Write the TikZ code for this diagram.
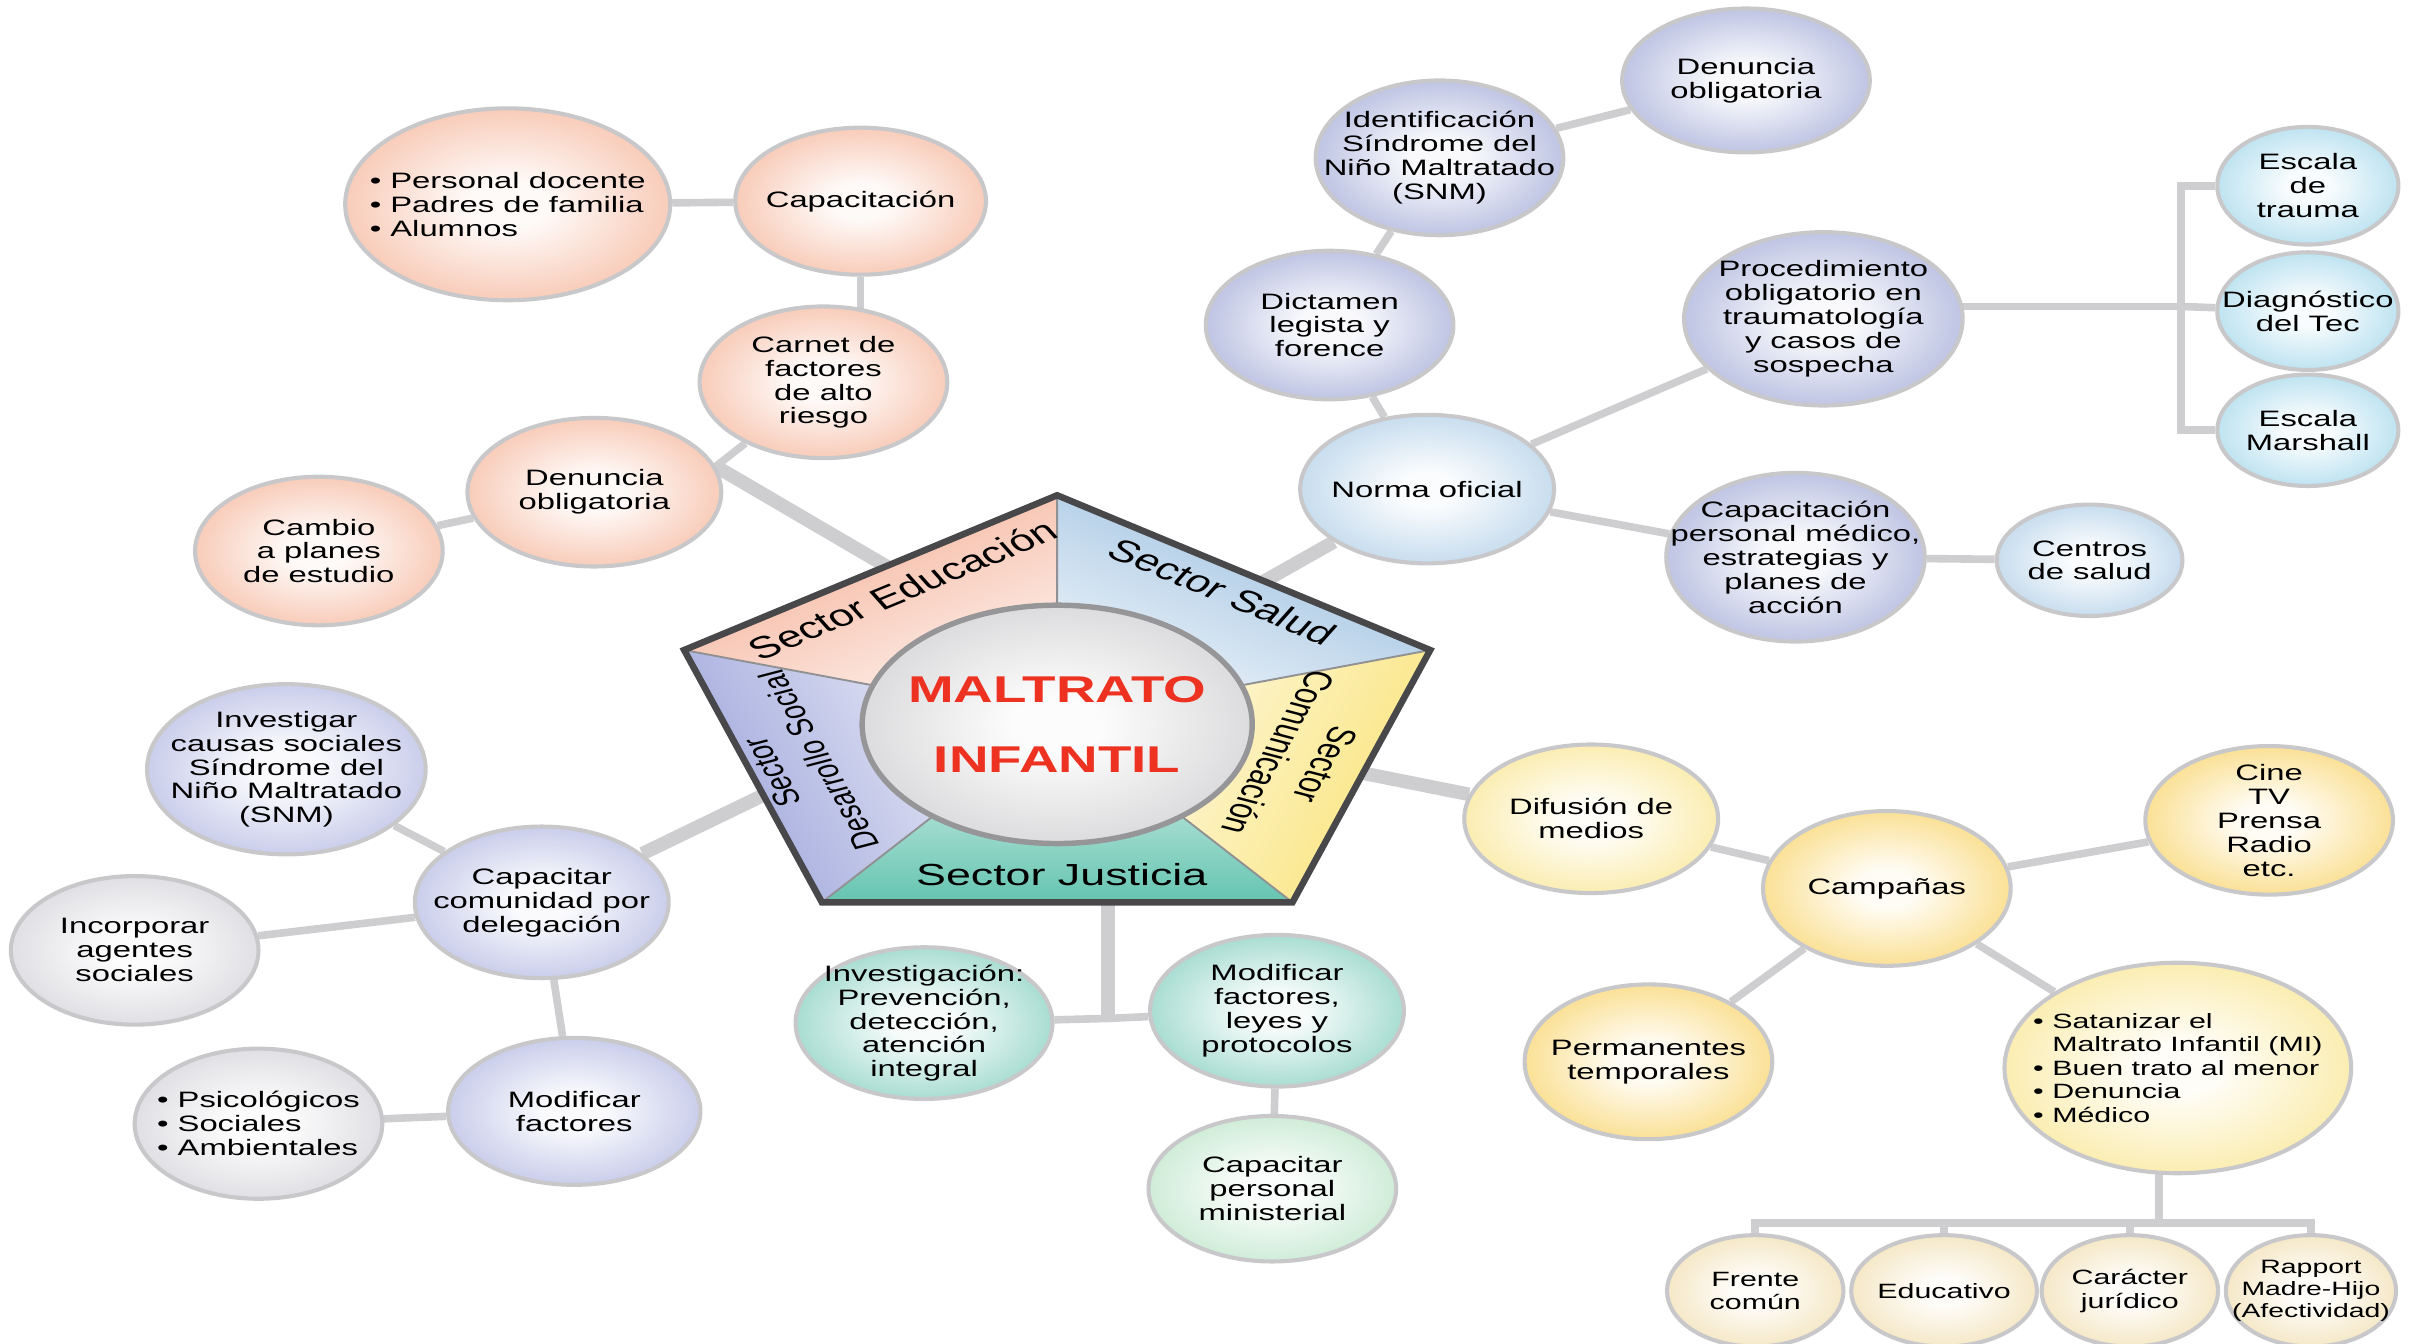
\documentclass[tikz,border=0pt]{standalone}
\usepackage{fontspec}
\setmainfont{Liberation Sans}[FakeStretch=1.47]
\newfontfamily\flatfont{Liberation Sans}
\usetikzlibrary{shapes.geometric}

\definecolor{wire}{RGB}{206,206,208}
\definecolor{rim}{RGB}{200,200,203}
\definecolor{pentrim}{RGB}{72,72,75}
\definecolor{corerim}{RGB}{150,150,153}
\definecolor{core}{RGB}{198,198,201}
\definecolor{alarm}{RGB}{238,50,34}
\definecolor{edu}{RGB}{244,172,142}
\definecolor{sal}{RGB}{150,160,210}
\definecolor{norma}{RGB}{165,200,228}
\definecolor{escala}{RGB}{150,210,232}
\definecolor{com}{RGB}{248,206,85}
\definecolor{compale}{RGB}{248,226,130}
\definecolor{crema}{RGB}{240,218,165}
\definecolor{jus}{RGB}{115,200,182}
\definecolor{juspale}{RGB}{178,225,192}
\definecolor{des}{RGB}{168,175,222}
\definecolor{gris}{RGB}{205,203,210}
\definecolor{wEdu}{RGB}{244,172,145}
\definecolor{wSal}{RGB}{150,188,222}
\definecolor{wCom}{RGB}{250,228,125}
\definecolor{wJus}{RGB}{100,196,176}
\definecolor{wDes}{RGB}{160,168,220}

\pgfdeclarelayer{bg}
\pgfsetlayers{bg,main}

\newcommand\bubshade[1]{\pgfdeclareradialshading{bub#1}{\pgfpoint{0bp}{0bp}}{color(0bp)=(#1!6); color(6bp)=(#1!6); color(38bp)=(#1); color(50bp)=(#1)}}
\bubshade{edu}\bubshade{sal}\bubshade{norma}\bubshade{escala}\bubshade{com}\bubshade{compale}
\bubshade{crema}\bubshade{jus}\bubshade{juspale}\bubshade{des}\bubshade{gris}\bubshade{core}

\newcommand\bubfont{\fontsize{8.2}{8.8}\selectfont}
\newcommand\smallbubfont{\fontsize{7.6}{8.6}\selectfont}
\newcommand\tinybubfont{\fontsize{7.1}{8.2}\selectfont}
\newcommand\secfont{\flatfont\fontsize{11.2}{12}\selectfont}
\newcommand\mifont{\fontsize{13.7}{25.6}\selectfont\bfseries}

\tikzset{
	bub/.style={ellipse, draw=rim, line width=1.5pt, shading=bub#1, inner xsep=-1cm, inner ysep=-4mm, minimum width=3.24cm, minimum height=1.92cm, align=center, font=\bubfont},
	con/.style={draw=wire, line width=2.8pt},
	trunk/.style={draw=wire, line width=5pt},
	sector/.style={font=\secfont, align=center, inner sep=0pt},
	wedge/.style={top color=#1, bottom color=#1!12},
	divider/.style={draw=pentrim!60, line width=0.7pt},
}

\begin{document}
\begin{tikzpicture}
	\useasboundingbox (0,0) rectangle (31.36,17.36);
	\coordinate (pc) at (13.66,8.06);
	\coordinate (pt) at (13.66,10.96);
	\coordinate (pr) at (18.48,8.96);
	\coordinate (pbr) at (16.7,5.7);
	\coordinate (pbl) at (10.62,5.7);
	\coordinate (pl) at (8.84,8.96);
	\shade[wedge=wEdu, shading angle=22.5] (pl) -- (pt) -- (pc) -- cycle;
	\shade[wedge=wSal, shading angle=-22.5] (pt) -- (pr) -- (pc) -- cycle;
	\shade[wedge=wCom, shading angle=-118] (pr) -- (pbr) -- (pc) -- cycle;
	\shade[wedge=wJus, shading angle=180] (pbr) -- (pbl) -- (pc) -- cycle;
	\shade[wedge=wDes, shading angle=118] (pbl) -- (pl) -- (pc) -- cycle;
	\draw[divider] (pt) -- (pc) (pr) -- (pc) (pbr) -- (pc) (pbl) -- (pc) (pl) -- (pc);
	\draw[pentrim, line width=2.4pt] (pl) -- (pt) -- (pr) -- (pbr) -- (pbl) -- cycle;
	\node[bub=core, draw=corerim, line width=2pt, minimum width=5.04cm, minimum height=3.08cm, font=\mifont, text=alarm] (mi) at (13.66,8.0) {MALTRATO\\INFANTIL};
	\begin{scope}[shift={(pc)}, xscale=1.47, transform shape]
		\node[sector, rotate=31.3] (tEdu) at (-1.36,1.68) {Sector Educación};
		\node[sector, rotate=-31.3] (tSal) at (1.456,1.66) {Sector Salud};
		\node[sector, font=\flatfont\fontsize{10}{12.6}\selectfont, rotate=-111] (tCom) at (2.15,-0.5) {Sector\\Comunicación};
		\node[sector] (tJus) at (0.04,-2.0) {Sector Justicia};
		\node[sector, font=\flatfont\fontsize{9.2}{12.6}\selectfont, rotate=111] (tDes) at (-2.3,-0.6) {Sector\\Desarrollo Social};
	\end{scope}
	\coordinate (rEdu) at (11.8,9.84);
	\coordinate (rSal) at (16.0,9.66);
	\coordinate (rCom) at (17.36,7.42);
	\coordinate (rJus) at (14.32,5.86);
	\coordinate (rDes) at (10.1,7.2);

	\node[bub=edu, align=left, minimum width=4.2cm, minimum height=2.48cm] (ePers) at (6.56,14.72) {• Personal docente\\• Padres de familia\\• Alumnos};
	\node[bub=edu, minimum height=1.9cm] (eCap) at (11.12,14.76) {Capacitación};
	\node[bub=edu, minimum width=3.2cm, minimum height=1.96cm] (eCarnet) at (10.64,12.42) {Carnet de\\factores\\de alto\\riesgo};
	\node[bub=edu, minimum width=3.28cm] (eDen) at (7.68,11.0) {Denuncia\\obligatoria};
	\node[bub=edu, minimum width=3.2cm] (eCambio) at (4.12,10.24) {Cambio\\a planes\\de estudio};

	\node[bub=norma, minimum width=3.28cm] (sNorma) at (18.44,11.04) {Norma oficial};
	\node[bub=sal, minimum width=3.2cm] (sDict) at (17.18,13.16) {Dictamen\\legista y\\forence};
	\node[bub=sal, minimum width=3.2cm, minimum height=2.0cm] (sIdent) at (18.6,15.32) {Identificación\\Síndrome del\\Niño Maltratado\\(SNM)};
	\node[bub=sal, minimum width=3.2cm, minimum height=1.86cm] (sDen) at (22.56,16.32) {Denuncia\\obligatoria};
	\node[bub=sal, minimum width=3.6cm, minimum height=2.24cm] (sProc) at (23.56,13.24) {Procedimiento\\obligatorio en\\traumatología\\y casos de\\sospecha};
	\node[bub=sal, minimum width=3.34cm, minimum height=2.18cm] (sCapac) at (23.2,10.16) {Capacitación\\personal médico,\\estrategias y\\planes de\\acción};
	\node[bub=norma, minimum width=2.4cm, minimum height=1.44cm] (sCentros) at (27.0,10.12) {Centros\\de salud};
	\node[bub=escala, minimum width=2.34cm, minimum height=1.52cm] (sEsc1) at (29.82,14.96) {Escala\\de\\trauma};
	\node[bub=escala, minimum width=2.34cm, minimum height=1.52cm] (sDiag) at (29.82,13.34) {Diagnóstico\\del Tec};
	\node[bub=escala, minimum width=2.34cm, minimum height=1.44cm] (sEsc2) at (29.82,11.8) {Escala\\Marshall};

	\node[bub=compale, minimum width=3.28cm] (cDif) at (20.56,6.78) {Difusión de\\medios};
	\node[bub=com, minimum width=3.2cm, minimum height=2.0cm] (cCamp) at (24.38,5.88) {Campañas};
	\node[bub=com, minimum width=3.2cm] (cCine) at (29.32,6.76) {Cine\\TV\\Prensa\\Radio\\etc.};
	\node[bub=com, minimum width=3.2cm, minimum height=2.0cm] (cPerm) at (21.3,3.64) {Permanentes\\temporales};
	\node[bub=compale, align=left, font=\smallbubfont, minimum width=4.48cm, minimum height=2.72cm] (cSat) at (28.14,3.56) {• Satanizar el\\\phantom{• }Maltrato Infantil (MI)\\• Buen trato al menor\\• Denuncia\\• Médico};
	\node[bub=crema, font=\smallbubfont, minimum width=2.28cm, minimum height=1.44cm] (cFrente) at (22.68,0.68) {Frente\\común};
	\node[bub=crema, font=\smallbubfont, minimum width=2.4cm, minimum height=1.44cm] (cEdu) at (25.12,0.68) {Educativo};
	\node[bub=crema, font=\smallbubfont, minimum width=2.28cm, minimum height=1.44cm] (cCar) at (27.52,0.68) {Carácter\\jurídico};
	\node[bub=crema, font=\tinybubfont, minimum width=2.2cm, minimum height=1.44cm] (cRap) at (29.86,0.68) {Rapport\\Madre-Hijo\\(Afectividad)};

	\node[bub=jus, minimum width=3.32cm, minimum height=1.96cm] (jInv) at (11.94,4.14) {Investigación:\\Prevención,\\detección,\\atención\\integral};
	\node[bub=jus, minimum width=3.28cm, minimum height=1.96cm] (jMod) at (16.5,4.3) {Modificar\\factores,\\leyes y\\protocolos};
	\node[bub=juspale, minimum width=3.2cm, minimum height=1.88cm] (jCap) at (16.44,2.0) {Capacitar\\personal\\ministerial};
	\coordinate (jJ) at (14.32,4.2);

	\node[bub=des, minimum width=3.6cm, minimum height=2.2cm] (dInv) at (3.7,7.42) {Investigar\\causas sociales\\Síndrome del\\Niño Maltratado\\(SNM)};
	\node[bub=des, minimum width=3.28cm, minimum height=1.96cm] (dCap) at (7.0,5.7) {Capacitar\\comunidad por\\delegación};
	\node[bub=gris, minimum width=3.2cm] (dInc) at (1.74,5.08) {Incorporar\\agentes\\sociales};
	\node[bub=des, minimum width=3.26cm, minimum height=1.9cm] (dMod) at (7.42,3.0) {Modificar\\factores};
	\node[bub=gris, align=left, minimum width=3.2cm, minimum height=1.94cm] (dPsi) at (3.34,2.84) {• Psicológicos\\• Sociales\\• Ambientales};

	\coordinate (sBar) at (28.18,13.4);
	\coordinate (cBar) at (27.9,1.56);
	\begin{pgfonlayer}{bg}
		\draw[trunk] (rEdu) -- (eDen.12);
		\draw[con] (eDen.12) -- (eCarnet);
		\draw[con] (ePers) -- (eCap);
		\draw[con] (eCap.south) -- (eCap.south |- eCarnet);
		\draw[con] (eCambio) -- (eDen);
		\draw[trunk] (rSal) -- (sNorma);
		\draw[con] (sNorma) -- (sDict);
		\draw[con] (sDict) -- (sIdent);
		\draw[con] (sIdent) -- (sDen);
		\draw[con] (sNorma) -- (sProc);
		\draw[con] (sNorma) -- (sCapac);
		\draw[con] (sCapac) -- (sCentros);
		\draw[con] (sProc |- sBar) -- (sBar);
		\draw[con] (sEsc1) -| (sBar) |- (sEsc2);
		\draw[con] (sBar) -- (sDiag);
		\draw[trunk] (rCom) -- (cDif);
		\draw[con] (cDif) -- (cCamp);
		\draw[con] (cCamp) -- (cCine);
		\draw[con] (cCamp) -- (cPerm);
		\draw[con] (cCamp) -- (cSat);
		\draw[con] (cBar) -- (cBar |- cSat);
		\draw[con] (cFrente) |- (cBar) -| (cRap);
		\draw[con] (cEdu) -- (cEdu |- cBar);
		\draw[con] (cCar) -- (cCar |- cBar);
		\draw[trunk] (rJus) -- (jJ);
		\draw[con] (jInv) -- (jJ) -- (jMod);
		\draw[con] (jMod) -- (jCap);
		\draw[trunk] (rDes) -- (dCap);
		\draw[con] (dInv) -- (dCap);
		\draw[con] (dInc) -- (dCap);
		\draw[con] (dCap) -- (dMod);
		\draw[con] (dPsi) -- (dMod);
	\end{pgfonlayer}
\end{tikzpicture}
\end{document}
